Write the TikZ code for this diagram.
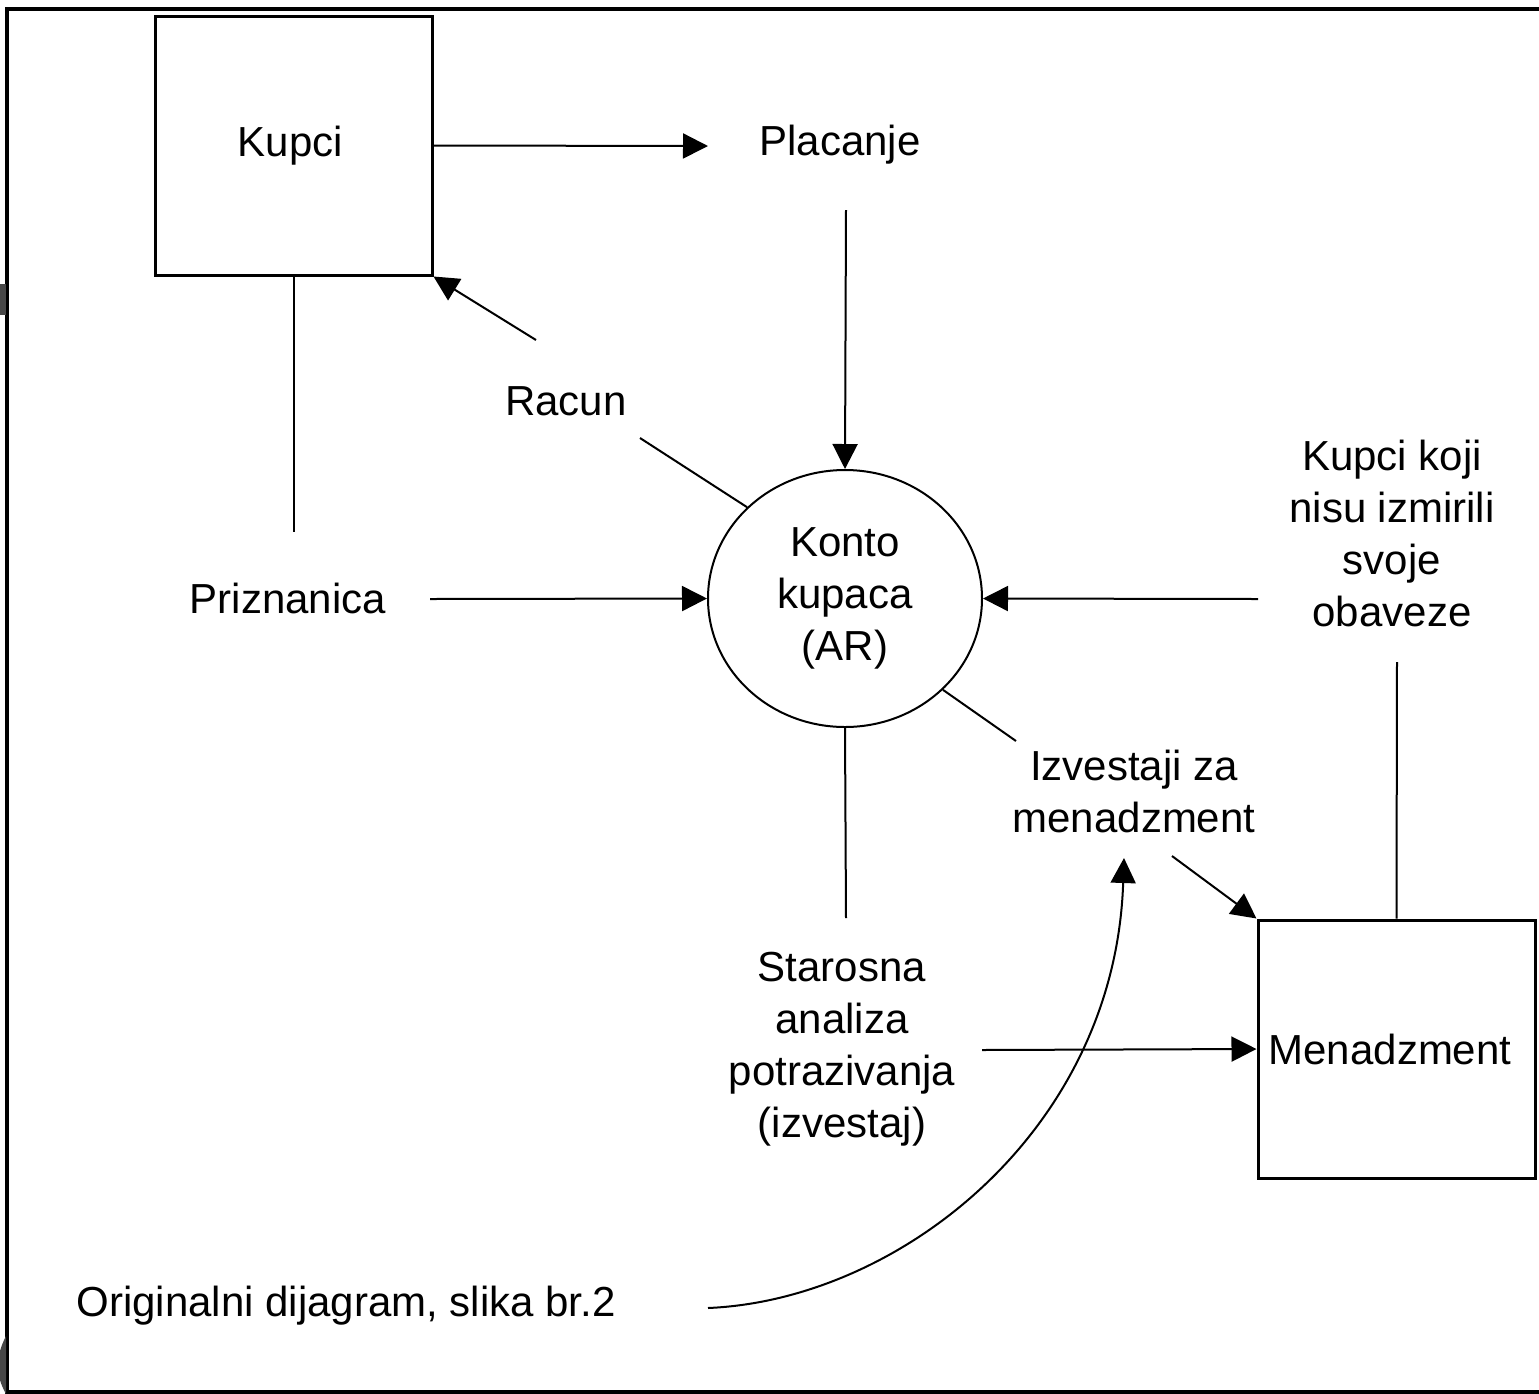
\documentclass[tikz,border=0pt]{standalone}
\usepackage{fontspec}
\setmainfont{Liberation Sans}
\usetikzlibrary{arrows.meta,shapes.geometric}
\begin{document}
\begin{tikzpicture}[x=0.5pt,y=-0.5pt,
  lbl/.style={font=\fontsize{21}{26}\selectfont, align=center, inner sep=0pt},
  boxnode/.style={draw, line width=1.5pt, minimum width=138.5pt, minimum height=129.5pt, inner sep=0pt, font=\fontsize{21}{26}\selectfont},
  procnode/.style={draw, ellipse, line width=1pt, minimum width=137pt, minimum height=128.5pt, inner sep=0pt, align=center, font=\fontsize{21}{26}\selectfont},
  flow/.style={line width=1pt, -{Triangle[length=12.5pt,width=12.5pt]}},
  link/.style={line width=1pt}]
\useasboundingbox (0,0) rectangle (1539,1394);
\fill[white] (0,0) rectangle (1539,1394);
% screenshot frame and edge artefacts
\draw[line width=1.75pt] (1539,9) -- (7,9) -- (7,1392) -- (1539,1392);
\fill[black!72] (0,284) rectangle (6,315);
\fill[black!72] (6,1336) .. controls (-5,1358) and (-5,1374) .. (6,1394) -- cycle;

% nodes
\node[boxnode] (kupci) at (293.5,145.5) {\hspace*{-3pt}Kupci};
\node[boxnode, minimum height=129pt] (menad) at (1396.5,1049) {\hspace*{-6.5pt}Menadzment};
\node[procnode] (ar) at (845,598.5) {Konto\\kupaca\\(AR)};

\node[lbl] (placanje) at (840,145) {Placanje};
\node[lbl] (racun) at (566,401) {Racun};
\node[lbl] (prizn) at (288,598) {Priznanica};
\node[lbl] (kkoji) at (1392,533) {Kupci koji\\nisu izmirili\\svoje\\obaveze};
\node[lbl] (izv) at (1134,791) {Izvestaji za\\menadzment};
\node[lbl] (star) at (842,1049) {Starosna\\analiza\\potrazivanja\\(izvestaj)};
\node[lbl] (orig) at (346,1306) {Originalni dijagram, slika br.2};

% free connector ends
\coordinate (placW) at (708,146);
\coordinate (placS) at (846,210);
\coordinate (racSE) at (640,438);
\coordinate (racNW) at (536,340);
\coordinate (prizN) at (293.5,532);
\coordinate (prizE) at (430,599);
\coordinate (kkW) at (1258,599);
\coordinate (kkS) at (1397,662);
\coordinate (starN) at (846,918);
\coordinate (starE) at (982,1050);
\coordinate (izvNW) at (1016,741);
\coordinate (izvSE) at (1172,856);
\coordinate (izvS) at (1124,858);
\coordinate (origE) at (708,1308);

% connectors
\draw[flow] (kupci.east) -- (placW);
\draw[flow] (placS) -- (ar.north);
\draw[link] (ar.137) -- (racSE);
\draw[flow] (racNW) -- (kupci.south east);
\draw[link] (kupci.south) -- (prizN);
\draw[flow] (prizE) -- (ar.west);
\draw[flow] (kkW) -- (ar.east);
\draw[link] (kkS) -- (menad.north);
\draw[link] (ar.south) -- (starN);
\draw[flow] (starE) -- (menad.west);
\draw[link] (ar.-43) -- (izvNW);
\draw[flow] (izvSE) -- (menad.north west);
\draw[flow] (origE) .. controls (900,1300) and (1115,1130) .. (izvS);
\end{tikzpicture}
\end{document}
